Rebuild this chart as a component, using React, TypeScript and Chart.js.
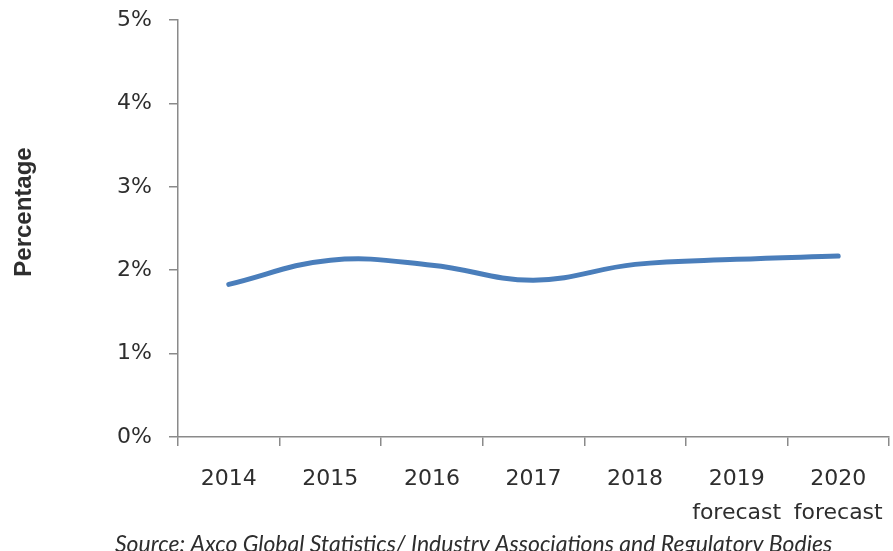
import React, { useEffect, useRef } from "react";
import { Chart, registerables } from "chart.js";

Chart.register(...registerables);

const categories: (string | string[])[] = [
  "2014",
  "2015",
  "2016",
  "2017",
  "2018",
  ["2019", "forecast"],
  ["2020", "forecast"],
];
const values: number[] = [1.83, 2.12, 2.06, 1.88, 2.07, 2.13, 2.17];
const yTicks: number[] = [0, 1, 2, 3, 4, 5];
const yTitle = "Percentage";
const sourceText = "Source: Axco Global Statistics/ Industry Associations and Regulatory Bodies";

const textColor = "#2e2e2e";
const axisColor = "#8a8a8a";

const overlayPlugin = {
  id: "overlay",
  afterDraw(chart: any) {
    const ctx = chart.ctx as CanvasRenderingContext2D;
    ctx.save();
    ctx.fillStyle = textColor;
    ctx.font = "bold 24px 'Liberation Sans', Arial, sans-serif";
    ctx.textAlign = "center";
    ctx.textBaseline = "middle";
    ctx.translate(24, 212);
    ctx.rotate(-Math.PI / 2);
    ctx.fillText(yTitle, 0, 0);
    ctx.restore();

    ctx.save();
    ctx.fillStyle = textColor;
    ctx.font = "italic 23px Lato, 'Open Sans', sans-serif";
    ctx.textAlign = "left";
    ctx.textBaseline = "alphabetic";
    ctx.fillText(sourceText, 115, 552);
    ctx.restore();
  },
};

export default function App() {
  const canvasRef = useRef<HTMLCanvasElement | null>(null);

  useEffect(() => {
    if (!canvasRef.current) return;
    const chart = new Chart(canvasRef.current, {
      type: "line",
      data: {
        labels: categories,
        datasets: [
          {
            data: values,
            borderColor: "#4a7ebb",
            borderWidth: 5,
            tension: 0.4,
            pointRadius: 0,
            borderCapStyle: "round",
            borderJoinStyle: "round",
            fill: false,
          },
        ],
      },
      options: {
        animation: false,
        responsive: false,
        maintainAspectRatio: false,
        layout: { padding: { top: 20, right: 4, left: 0, bottom: 0 } },
        plugins: {
          legend: { display: false },
          tooltip: { enabled: false },
          title: { display: false },
        },
        scales: {
          x: {
            offset: true,
            grid: {
              offset: true,
              drawOnChartArea: false,
              drawTicks: true,
              tickLength: 9,
              color: axisColor,
              lineWidth: 1.5,
            },
            border: { display: true, color: axisColor, width: 1.5 },
            ticks: {
              color: textColor,
              font: { family: "'DejaVu Sans', sans-serif", size: 22, lineHeight: 1.55 },
              padding: 16,
              maxRotation: 0,
              autoSkip: false,
            },
            afterFit(scale: any) {
              scale.height = 114;
              scale.paddingLeft = 0;
              scale.paddingRight = 0;
            },
          },
          y: {
            min: 0,
            max: 5,
            afterBuildTicks(scale: any) {
              scale.ticks = yTicks.map((v) => ({ value: v }));
            },
            grid: {
              drawOnChartArea: false,
              drawTicks: true,
              tickLength: 9,
              color: axisColor,
              lineWidth: 1.5,
            },
            border: { display: true, color: axisColor, width: 1.5 },
            ticks: {
              color: textColor,
              font: { family: "'DejaVu Sans', sans-serif", size: 22 },
              padding: 17,
              callback: (v: any) => `${v}%`,
            },
            afterFit(scale: any) {
              scale.width = 178;
              scale.paddingTop = 0;
              scale.paddingBottom = 0;
            },
          },
        },
      },
      plugins: [overlayPlugin],
    });
    return () => chart.destroy();
  }, []);

  return (
    <div style={{ position: "fixed", left: 0, top: 0, width: 893, height: 551, background: "#fff" }}>
      <canvas ref={canvasRef} width={893} height={551} />
    </div>
  );
}
